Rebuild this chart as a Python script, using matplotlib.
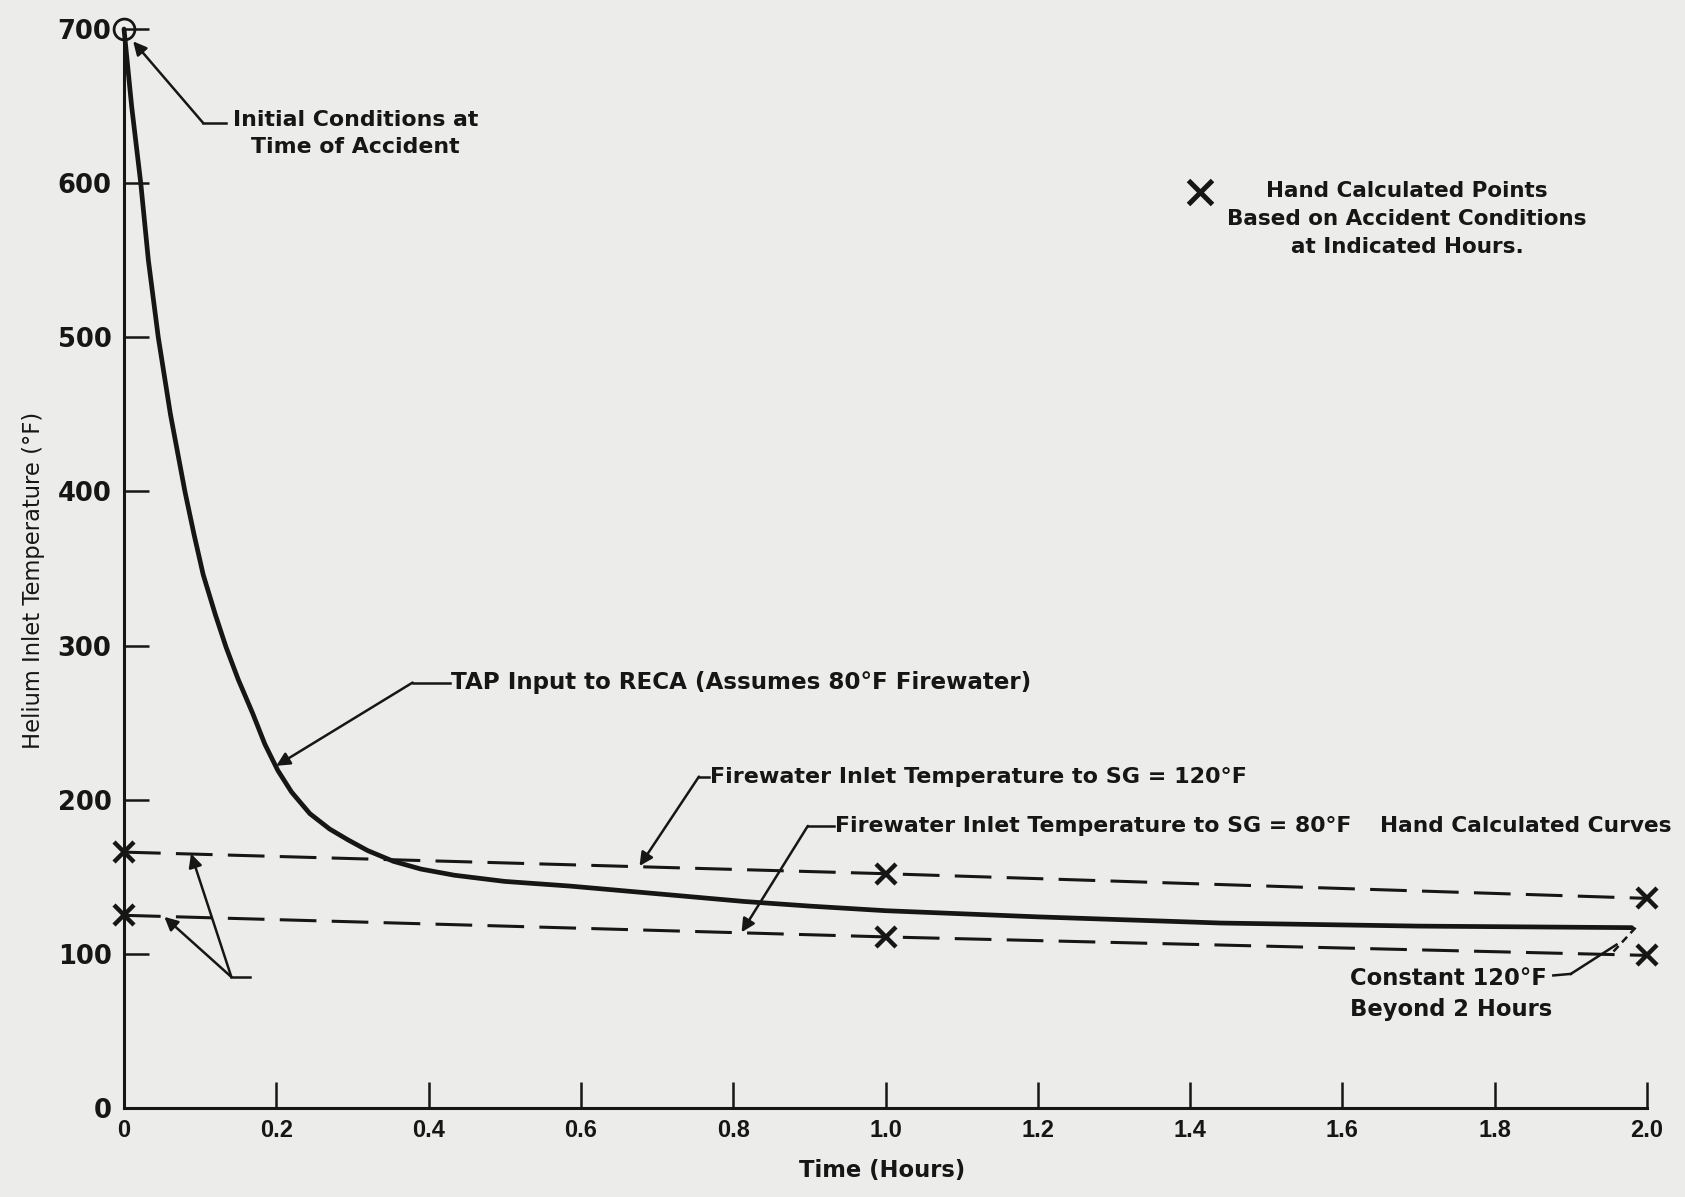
import matplotlib
matplotlib.use("Agg")
import matplotlib.pyplot as plt

# TAP input curve (time in hours, helium inlet temp in F)
tap_time = [0.0, 0.01, 0.022, 0.032, 0.045, 0.061, 0.080, 0.092, 0.104, 0.12, 0.134, 0.15,
            0.169, 0.185, 0.202, 0.22, 0.244, 0.27, 0.294, 0.32, 0.354, 0.39, 0.434,
            0.5, 0.585, 0.7, 0.814, 0.9, 1.0, 1.1, 1.2, 1.32, 1.44, 1.57, 1.7, 1.84, 1.98]
tap_temp = [700, 650, 600, 550, 500, 450, 400, 372, 346, 320, 299, 278,
            256, 236, 219, 205, 191, 181, 174, 167, 160, 155, 151,
            147, 144, 139, 134, 131, 128, 126, 124, 122, 120, 119, 118, 117.5, 117]

# hand calculated curves / points
hand_time = [0.0, 1.0, 2.0]
hand_fw120 = [166, 152, 136]
hand_fw80 = [125, 111, 99]

x_ticks = [0, 0.2, 0.4, 0.6, 0.8, 1.0, 1.2, 1.4, 1.6, 1.8, 2.0]
x_labels = ['0', '0.2', '0.4', '0.6', '0.8', '1.0', '1.2', '1.4', '1.6', '1.8', '2.0']
y_ticks = [0, 100, 200, 300, 400, 500, 600, 700]

ink = '#161616'
paper = '#ececea'
txt_font = ['DejaVu Sans']
tick_font = ['Liberation Sans', 'DejaVu Sans']

fig = plt.figure(figsize=(16.85, 11.97), dpi=100, facecolor=paper)
ax = fig.add_axes([124 / 1685, 1 - 1108 / 1197, 1523 / 1685, 1079 / 1197])
ax.set_facecolor(paper)

ax.set_xlim(0, 2.0)
ax.set_ylim(0, 700)
for s in ['top', 'right']:
    ax.spines[s].set_visible(False)
for s in ['left', 'bottom']:
    ax.spines[s].set_linewidth(2.2)
    ax.spines[s].set_color(ink)

ax.set_xticks(x_ticks)
ax.set_xticklabels(x_labels)
ax.set_yticks(y_ticks)
ax.tick_params(axis='x', direction='in', length=19, width=1.8, pad=8, colors=ink)
ax.tick_params(axis='y', direction='in', length=18, width=1.8, pad=9, colors=ink)
for lab in ax.get_xticklabels():
    lab.set_fontfamily(tick_font)
    lab.set_fontweight('bold')
    lab.set_fontsize(17)
for lab in ax.get_yticklabels():
    lab.set_fontfamily(txt_font)
    lab.set_fontweight('bold')
    lab.set_fontsize(18.5)

ax.set_xlabel('Time (Hours)', fontsize=16.3, fontweight='bold', family=txt_font, color=ink)
ax.xaxis.set_label_coords(0.498, -0.047)
ax.set_ylabel('Helium Inlet Temperature (°F)', fontsize=16.3, family=txt_font, color=ink)
ax.yaxis.set_label_coords(-0.052, 0.489)

# main curve
ax.plot(tap_time, tap_temp, color=ink, lw=3.4, solid_capstyle='round',
        solid_joinstyle='round', clip_on=False, zorder=3)
ax.plot(tap_time[0], tap_temp[0], 'o', ms=15, mfc='none', mec=ink, mew=2, clip_on=False, zorder=4)

# hand calculated curves
ax.plot(hand_time, hand_fw120, color=ink, lw=2.2, dashes=(12, 5), clip_on=False)
ax.plot(hand_time, hand_fw80, color=ink, lw=2.2, dashes=(12, 5), clip_on=False)
ax.plot(hand_time, hand_fw120, 'x', ms=15, mew=3.2, color=ink, clip_on=False, zorder=5)
ax.plot(hand_time, hand_fw80, 'x', ms=15, mew=3.2, color=ink, clip_on=False, zorder=5)
# short dashed tie from end of TAP curve down to the 80F curve
ax.plot([1.985, 1.955], [117, 101], color=ink, lw=1.8, dashes=(3, 2), clip_on=False)

arrow = dict(arrowstyle='-|>', color=ink, lw=1.8, shrinkA=0, shrinkB=0, mutation_scale=20)

def leader(text_xy, elbow_xy, tip_xy, head=True):
    ax.plot([text_xy[0], elbow_xy[0]], [text_xy[1], elbow_xy[1]], color=ink, lw=1.8)
    if head:
        ax.annotate('', xy=tip_xy, xytext=elbow_xy, arrowprops=arrow)
    else:
        ax.plot([elbow_xy[0], tip_xy[0]], [elbow_xy[1], tip_xy[1]], color=ink, lw=1.8)

# Initial conditions
ax.text(0.304, 632, 'Initial Conditions at\nTime of Accident', ha='center', va='center',
        fontsize=15.8, fontweight='bold', family=txt_font, color=ink, linespacing=1.45)
leader((0.134, 639), (0.104, 639), (0.012, 692))

# legend for hand calculated points
ax.plot(1.413, 594, 'x', ms=17, mew=3.6, color=ink)
ax.text(1.685, 577, 'Hand Calculated Points\nBased on Accident Conditions\nat Indicated Hours.',
        ha='center', va='center', fontsize=15.5, fontweight='bold', family=txt_font,
        color=ink, linespacing=1.5)

# TAP curve label
ax.text(0.43, 276, 'TAP Input to RECA (Assumes 80°F Firewater)', ha='left', va='center',
        fontsize=16.6, fontweight='bold', family=txt_font, color=ink)
leader((0.428, 276), (0.379, 276), (0.2, 222))

# firewater curves
ax.text(0.769, 215, 'Firewater Inlet Temperature to SG = 120°F', ha='left', va='center',
        fontsize=16.0, fontweight='bold', family=txt_font, color=ink)
leader((0.768, 215), (0.755, 215), (0.677, 157))
ax.text(0.934, 183, 'Firewater Inlet Temperature to SG = 80°F', ha='left', va='center',
        fontsize=15.8, fontweight='bold', family=txt_font, color=ink)
leader((0.933, 183), (0.898, 183), (0.811, 114))
ax.text(1.649, 183, 'Hand Calculated Curves', ha='left', va='center',
        fontsize=15.6, fontweight='bold', family=txt_font, color=ink)

# bracket arrows pointing at the starting points
ax.plot([0.141, 0.166], [85, 85], color=ink, lw=1.8)
ax.annotate('', xy=(0.088, 165), xytext=(0.141, 85), arrowprops=arrow)
ax.annotate('', xy=(0.053, 124), xytext=(0.141, 85), arrowprops=arrow)

# constant beyond 2 hours
ax.text(1.61, 74, 'Constant 120°F\nBeyond 2 Hours', ha='left', va='center',
        fontsize=16.3, fontweight='bold', family=txt_font, color=ink, linespacing=1.4)
leader((1.877, 86), (1.9, 87), (1.96, 106), head=False)

fig.savefig('out.png', dpi=100, facecolor=paper)
